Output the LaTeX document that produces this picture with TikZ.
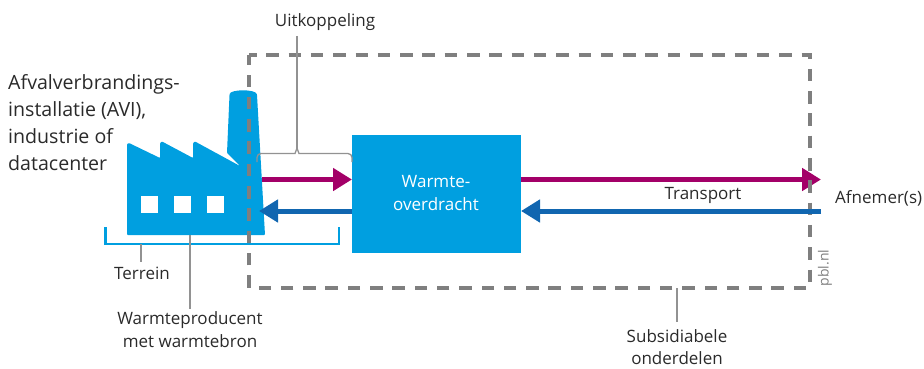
\documentclass[tikz,border=0pt]{standalone}
\usepackage{fontspec}
\setmainfont{Open Sans}
\usetikzlibrary{arrows.meta}
\definecolor{pblcyan}{HTML}{009FE0}
\definecolor{pblblue}{HTML}{1166B0}
\definecolor{pblpurple}{HTML}{A30068}
\definecolor{pblgray}{HTML}{7F7F7F}
\definecolor{pbltext}{HTML}{2A2A2A}
\tikzset{
  lbl/.style={font=\fontsize{17}{23}\selectfont, text=pbltext, inner sep=0pt, align=center},
  leader/.style={draw=pblgray!85, line width=1.3pt},
  flowpurple/.style={draw=pblpurple, line width=5pt, -{Triangle[length=19pt,width=22pt]}, shorten >=0pt},
  flowblue/.style={draw=pblblue, line width=5pt, -{Triangle[length=19pt,width=22pt]}, shorten >=0pt},
  subsidy/.style={draw=pblgray, line width=3.2pt, dash pattern=on 12.5pt off 9.8pt, dash phase=5pt},
  win/.style={fill=white, draw=none}
}
\begin{document}
\begin{tikzpicture}[x=1pt,y=-1pt]
\useasboundingbox (0,0) rectangle (924,369);
% factory
\fill[pblcyan, rounded corners=0.8pt]
  (127,235) -- (127,144) -- (129,143) -- (160,158) -- (160,143) -- (162,141.5) -- (193,158) -- (193,143) -- (195,141.5)
  -- (240,166) -- (227,153) -- (229.5,95)
  .. controls (230,89) and (256,89) .. (257,95)
  -- (265,235) -- cycle;
\foreach \wx in {141,174,207}
  \fill[win] (\wx,196) rectangle +(16.5,17);
% central box
\node[fill=pblcyan, minimum width=169pt, minimum height=118pt, inner sep=0pt, anchor=north west] (box) at (352,135) {};
\node[lbl, text=white] (boxtext) at (436,193) {Warmte-\\overdracht};
% endpoints
\coordinate (facout) at (262,179.5);
\coordinate (facin) at (259,211);
\coordinate (boxinp) at (352,179.5);
\coordinate (boxinb) at (352,211);
\coordinate (boxoutp) at (521,179.5);
\coordinate (boxoutb) at (521,211);
\coordinate (endp) at (821,179.5);
\coordinate (endb) at (821,211);
\draw[flowpurple] (facout) -- (boxinp);
\draw[flowblue] (boxinb) -- (facin);
\draw[flowpurple] (boxoutp) -- (endp);
% subsidy frame
\draw[subsidy] (249,55) -- (810,55) -- (810,288) -- (249,288) -- cycle;
\draw[flowblue] (endb) -- (boxoutb);
% terrein bracket
\draw[draw=pblcyan, line width=2.2pt] (105.5,227) -- (105.5,244) -- (339,244) -- (339,227);
% uitkoppeling bracket
\draw[draw=pblgray!85, line width=1.3pt, rounded corners=4pt] (257,162) -- (257,153.5) -- (291,153.5) .. controls (295,153.5) and (296,151) .. (297,148);
\draw[draw=pblgray!85, line width=1.3pt, rounded corners=4pt] (352,162) -- (352,153.5) -- (303,153.5) .. controls (299,153.5) and (298,151) .. (297,148);
% labels
\node[lbl, anchor=west, align=left, font=\fontsize{19.6}{27}\selectfont] (afval) at (8,123) {Afvalverbrandings-\\installatie (AVI),\\industrie of\\datacenter};
\node[lbl] (uit) at (325,22) {Uitkoppeling};
\node[lbl] (trans) at (703,195) {Transport};
\node[lbl, anchor=west] (afn) at (835,198) {Afnemer(s)};
\node[lbl] (terr) at (142,273) {Terrein};
\node[lbl] (wp) at (190,329.5) {Warmteproducent\\met warmtebron};
\node[lbl, font=\fontsize{17}{22}\selectfont] (sub) at (677,347.5) {Subsidiabele\\onderdelen};
\node[font=\fontsize{14}{16}\selectfont, text=pblgray, rotate=90, inner sep=0pt] (pbl) at (825,268) {pbl.nl};
% leaders
\coordinate (uitb) at (297,148);
\coordinate (uitt) at (297,36);
\coordinate (tert) at (141,244);
\coordinate (terb) at (141,262);
\coordinate (wpt) at (190,235);
\coordinate (wpb) at (190,309);
\coordinate (subt) at (677,288);
\coordinate (subb) at (677,322);
\draw[leader] (uitt) -- (uitb);
\draw[leader] (tert) -- (terb);
\draw[leader] (wpt) -- (wpb);
\draw[leader] (subt) -- (subb);
\end{tikzpicture}
\end{document}
